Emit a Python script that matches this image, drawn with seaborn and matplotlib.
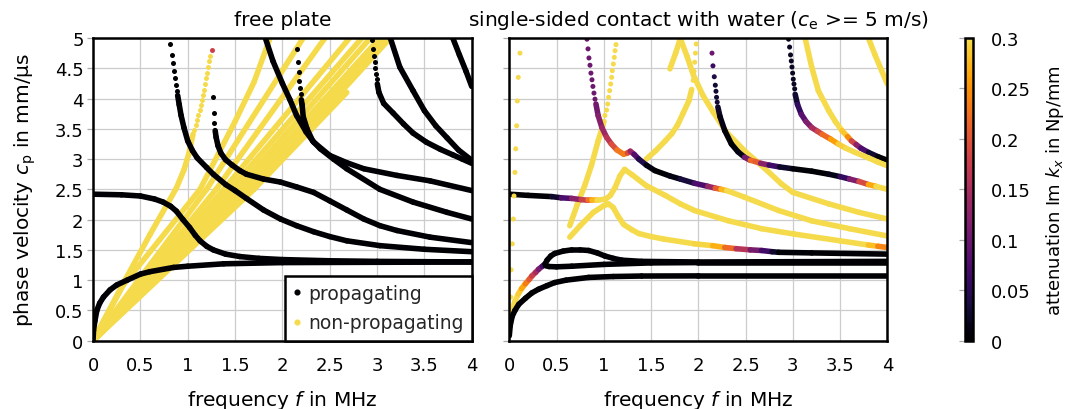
import numpy as np
import pandas as pd
import matplotlib
matplotlib.use('Agg')
import matplotlib.pyplot as plt
import seaborn as sns
from matplotlib.collections import LineCollection
from matplotlib.colors import ListedColormap, Normalize
from matplotlib.lines import Line2D
from matplotlib.cm import ScalarMappable

# ---------------------------------------------------------------- data
freq_ticks = [0, 0.5, 1, 1.5, 2, 2.5, 3, 3.5, 4]
freq_labels = ['0', '0.5', '1', '1.5', '2', '2.5', '3', '3.5', '4']
vel_ticks = [0, 0.5, 1, 1.5, 2, 2.5, 3, 3.5, 4, 4.5, 5]
vel_labels = ['0', '0.5', '1', '1.5', '2', '2.5', '3', '3.5', '4', '4.5', '5']
att_ticks = [0, 0.05, 0.1, 0.15, 0.2, 0.25, 0.3]
att_labels = ['0', '0.05', '0.1', '0.15', '0.2', '0.25', '0.3']
legend_labels = ['propagating', 'non-propagating']

# ---- free plate: propagating modes (f in MHz, c_p in mm/us), attenuation 0
free_A0 = [(0, 0), (0.005, 0.17), (0.02, 0.33), (0.04, 0.5), (0.07, 0.62), (0.11, 0.72),
           (0.18, 0.84), (0.25, 0.92), (0.36, 1.0), (0.5, 1.1), (0.6, 1.14), (0.85, 1.21),
           (1.0, 1.23), (1.38, 1.27), (2.0, 1.29), (4.0, 1.3)]
free_S0 = [(0, 2.42), (0.3, 2.41), (0.5, 2.39), (0.65, 2.34), (0.74, 2.29), (0.82, 2.22),
           (0.88, 2.14), (0.95, 2.0), (1.02, 1.87), (1.08, 1.74), (1.13, 1.65), (1.2, 1.56),
           (1.27, 1.5), (1.4, 1.43), (1.55, 1.39), (1.75, 1.36), (2.0, 1.34), (2.5, 1.32),
           (3.0, 1.31), (4.0, 1.3)]
free_A1 = [(0.894, 4.05), (0.91, 3.9), (0.93, 3.72), (0.96, 3.52), (1.0, 3.3), (1.05, 3.14),
           (1.1, 3.02), (1.2, 2.86), (1.27, 2.75),
           (1.4, 2.58), (1.5, 2.48), (1.62, 2.35), (1.8, 2.16), (1.98, 2.01), (2.15, 1.9),
           (2.33, 1.8), (2.5, 1.72), (2.68, 1.65), (3.03, 1.57), (3.5, 1.51), (4.0, 1.47)]
free_S1 = [(1.29, 3.47), (1.3, 3.36), (1.32, 3.22), (1.35, 3.1), (1.4, 2.99), (1.47, 2.9),
           (1.55, 2.81), (1.62, 2.75), (1.8, 2.67), (1.98, 2.62), (2.15, 2.54), (2.33, 2.45),
           (2.5, 2.31), (2.68, 2.16), (2.86, 2.01), (3.03, 1.9), (3.21, 1.82), (3.56, 1.71),
           (4.0, 1.62)]
free_M183 = [(1.82, 5.0), (1.9, 4.62), (2.0, 4.25), (2.08, 3.98), (2.15, 3.72), (2.25, 3.45),
             (2.33, 3.28), (2.5, 3.06), (2.68, 2.94), (2.86, 2.84), (3.21, 2.73), (3.56, 2.64),
             (4.0, 2.48)]
free_M217 = [(2.2, 3.98), (2.208, 3.9), (2.22, 3.7), (2.26, 3.5), (2.32, 3.3), (2.4, 3.17),
             (2.54, 3.0), (2.68, 2.84), (3.03, 2.5), (3.38, 2.29), (3.74, 2.12), (4.0, 2.01)]
free_M295 = [(3.003, 4.24), (3.02, 4.1), (3.07, 3.92), (3.17, 3.76), (3.28, 3.58), (3.38, 3.43),
             (3.52, 3.28), (3.67, 3.16), (3.8, 3.07), (3.9, 3.0), (4.0, 2.93)]
free_M314 = [(3.14, 5.0), (3.24, 4.52), (3.38, 4.13), (3.5, 3.8), (3.62, 3.55), (3.74, 3.35),
             (3.86, 3.15), (4.0, 2.98)]
free_M38 = [(3.8, 5.0), (3.87, 4.72), (3.94, 4.45), (4.0, 4.2)]
free_prop_dots = [(0.813, 4.90), (0.831, 4.72), (0.842, 4.58), (0.852, 4.46), (0.863, 4.34),
                  (0.873, 4.23), (0.884, 4.13),
                  (1.264, 4.03), (1.275, 3.76), (1.28, 3.59),
                  (2.152, 4.82), (2.162, 4.6), (2.173, 4.43), (2.18, 4.29), (2.187, 4.17),
                  (2.194, 4.08),
                  (2.944, 4.96), (2.955, 4.82), (2.965, 4.71), (2.976, 4.6), (2.982, 4.5),
                  (2.99, 4.41), (2.997, 4.32)]

# ---- free plate: non-propagating modes (attenuation >= 0.3)
free_np_Y1 = [(0, 0), (0.32, 0.95), (0.6, 1.75), (0.88, 2.52), (0.96, 2.82), (1.01, 3.08),
              (1.056, 3.41)]
free_np_Y1_dots = [(1.236, 4.708), (1.225, 4.615), (1.215, 4.516), (1.204, 4.422),
                   (1.194, 4.334), (1.183, 4.24), (1.173, 4.147), (1.162, 4.058), (1.151, 3.97),
                   (1.141, 3.888), (1.127, 3.805), (1.113, 3.723), (1.099, 3.64), (1.085, 3.563),
                   (1.07, 3.486)]
free_np_tip = [(1.254, 4.8, 0.18)]
free_np_Y2 = [(0, 0), (0.32, 0.92), (0.7, 1.66), (1.13, 2.5), (1.5, 3.62), (1.7, 4.27), (1.87, 5.0)]
free_np_fan = [
    [(0, 0), (1.2, 2.5), (2.22, 5.0)],
    [(0, 0), (1.3, 2.5), (2.45, 5.0)],
    [(0, 0), (1.38, 2.5), (2.71, 5.0)],
    [(0, 0), (1.45, 2.5), (2.84, 5.0)],
    [(0, 0), (1.52, 2.5), (2.93, 5.0)],
    [(0, 0), (1.58, 2.5), (3.03, 5.0)],
    [(0, 0), (1.63, 2.5), (3.10, 5.0)],
    [(0, 0), (1.68, 2.5), (3.14, 5.0)],
    [(0, 0), (1.56, 2.5), (2.05, 3.22)],
    [(0, 0), (1.62, 2.5), (2.19, 3.33)],
    [(0, 0), (1.7, 2.5), (2.68, 4.1)],
]

# ---- single-sided water contact: (f, c_p, attenuation Im k_x)
water_A0 = [(0.0, 0.08, 0), (0.01, 0.25, 0), (0.03, 0.4, 0), (0.06, 0.5, 0), (0.1, 0.6, 0),
            (0.17, 0.7, 0), (0.24, 0.79, 0), (0.31, 0.85, 0), (0.4, 0.91, 0), (0.48, 0.96, 0),
            (0.6, 1.0, 0), (0.84, 1.045, 0), (1.1, 1.06, 0), (1.4, 1.068, 0), (2.0, 1.07, 0),
            (4.0, 1.07, 0)]
water_loop_up = [(0.0, 0.18, 0.3), (0.007, 0.39, 0.3), (0.025, 0.5, 0.3), (0.06, 0.65, 0.3),
                 (0.095, 0.77, 0.3), (0.13, 0.86, 0.28), (0.17, 0.94, 0.25), (0.21, 1.01, 0.22),
                 (0.24, 1.07, 0.19), (0.28, 1.13, 0.16), (0.31, 1.18, 0.13), (0.35, 1.23, 0.09),
                 (0.38, 1.27, 0.04), (0.4, 1.33, 0.0), (0.44, 1.4, 0), (0.48, 1.44, 0),
                 (0.57, 1.48, 0), (0.66, 1.5, 0), (0.75, 1.5, 0), (0.84, 1.49, 0), (0.93, 1.45, 0),
                 (1.01, 1.4, 0), (1.1, 1.36, 0), (1.19, 1.33, 0), (1.4, 1.31, 0), (2.0, 1.3, 0),
                 (4.0, 1.31, 0)]
water_loop_low = [(0.38, 1.27, 0), (0.385, 1.24, 0), (0.42, 1.225, 0), (0.5, 1.22, 0),
                  (0.66, 1.23, 0), (1.0, 1.26, 0), (1.5, 1.285, 0), (2.0, 1.29, 0), (4.0, 1.29, 0)]
water_S0 = [(0, 2.42, 0), (0.2, 2.4, 0), (0.45, 2.38, 0.0), (0.55, 2.36, 0.05), (0.66, 2.35, 0.1),
            (0.76, 2.33, 0.15), (0.83, 2.32, 0.2), (0.88, 2.32, 0.25), (0.93, 2.32, 0.3),
            (1.02, 2.34, 0.3), (1.07, 2.4, 0.3), (1.12, 2.53, 0.3), (1.17, 2.72, 0.3),
            (1.22, 2.83, 0.3), (1.3, 2.74, 0.3), (1.45, 2.56, 0.3), (1.65, 2.4, 0.3),
            (1.81, 2.26, 0.3), (1.96, 2.15, 0.3), (2.32, 1.98, 0.3), (2.67, 1.85, 0.3),
            (3.02, 1.76, 0.3), (3.5, 1.65, 0.3), (3.8, 1.58, 0.3), (3.9, 1.56, 0.26),
            (4.0, 1.54, 0.22)]
water_low_peak = [(0.64, 1.71, 0.3), (0.75, 1.9, 0.3), (0.89, 2.12, 0.3), (1.0, 2.23, 0.3),
                  (1.05, 2.26, 0.3), (1.1, 2.2, 0.3), (1.15, 2.06, 0.3), (1.21, 1.92, 0.3),
                  (1.3, 1.83, 0.3), (1.37, 1.77, 0.3), (1.5, 1.72, 0.3), (1.63, 1.68, 0.3),
                  (1.96, 1.6, 0.3), (2.15, 1.57, 0.29), (2.28, 1.54, 0.25), (2.4, 1.52, 0.19),
                  (2.55, 1.5, 0.13), (2.67, 1.49, 0.09), (2.78, 1.47, 0.04), (2.85, 1.46, 0.01),
                  (3.2, 1.45, 0), (4.0, 1.43, 0)]
water_up_yel = [(0.64, 1.9, 0.3), (0.72, 2.25, 0.3), (0.8, 2.57, 0.3), (0.87, 2.9, 0.3),
                (0.94, 3.3, 0.3), (0.98, 3.5, 0.3), (1.002, 3.62, 0.3)]
water_A1 = [(0.917, 3.91, 0.1), (0.94, 3.72, 0.11), (0.98, 3.52, 0.13), (1.03, 3.36, 0.15),
            (1.08, 3.25, 0.18), (1.14, 3.15, 0.21), (1.21, 3.08, 0.25), (1.25, 3.1, 0.22),
            (1.28, 3.13, 0.17), (1.32, 3.08, 0.1), (1.37, 3.0, 0.06), (1.45, 2.9, 0.02),
            (1.54, 2.81, 0), (1.7, 2.72, 0), (1.81, 2.67, 0.02), (1.96, 2.6, 0.05),
            (2.1, 2.55, 0.1), (2.18, 2.52, 0.17), (2.24, 2.5, 0.25), (2.3, 2.48, 0.3),
            (2.49, 2.37, 0.3), (2.85, 2.15, 0.3), (3.2, 1.98, 0.3), (3.6, 1.85, 0.3),
            (4.0, 1.73, 0.3)]
water_peak18 = [(1.7, 4.49, 0.3), (1.76, 4.75, 0.3), (1.81, 4.99, 0.3), (1.88, 4.7, 0.3),
                (1.95, 4.38, 0.3), (2.05, 4.05, 0.3), (2.16, 3.77, 0.3), (2.3, 3.44, 0.3),
                (2.5, 3.12, 0.3), (2.7, 2.85, 0.3), (2.88, 2.59, 0.3), (3.0, 2.45, 0.3),
                (3.38, 2.26, 0.3), (3.7, 2.12, 0.3), (4.0, 2.01, 0.3)]
water_rise_yel = [(1.45, 3.0, 0.3), (1.55, 3.14, 0.3), (1.65, 3.3, 0.3), (1.72, 3.42, 0.3),
                  (1.78, 3.56, 0.3), (1.84, 3.76, 0.3), (1.9, 3.96, 0.3), (1.93, 4.15, 0.3)]
water_M217 = [(2.207, 3.86, 0.03), (2.23, 3.7, 0.02), (2.28, 3.47, 0.01), (2.35, 3.25, 0),
              (2.42, 3.12, 0), (2.49, 3.03, 0.03), (2.55, 2.98, 0.18), (2.6, 2.96, 0.26),
              (2.66, 2.93, 0.16), (2.75, 2.9, 0.09), (2.86, 2.87, 0.04), (3.0, 2.84, 0.01),
              (3.2, 2.8, 0), (3.38, 2.75, 0), (3.5, 2.71, 0.03), (3.6, 2.67, 0.08),
              (3.7, 2.63, 0.15), (3.8, 2.58, 0.23), (3.88, 2.55, 0.3), (4.0, 2.5, 0.3)]
water_M295 = [(3.025, 4.07, 0.02), (3.05, 3.9, 0.04), (3.09, 3.74, 0.07), (3.14, 3.62, 0.1),
              (3.2, 3.52, 0.13), (3.26, 3.46, 0.17), (3.31, 3.41, 0.2), (3.4, 3.33, 0.24),
              (3.48, 3.25, 0.28), (3.56, 3.18, 0.3), (3.66, 3.11, 0.3), (3.8, 3.02, 0.3),
              (3.9, 2.95, 0.3), (4.0, 2.89, 0.3)]
water_M313 = [(3.13, 5.0, 0.3), (3.2, 4.52, 0.3), (3.27, 4.13, 0.3), (3.38, 3.8, 0.3),
              (3.45, 3.62, 0.3), (3.52, 3.47, 0.3), (3.58, 3.37, 0.27), (3.62, 3.3, 0.22),
              (3.67, 3.24, 0.15), (3.72, 3.18, 0.1), (3.8, 3.11, 0.05), (3.9, 3.04, 0.01),
              (4.0, 2.98, 0)]
water_M38 = [(3.8, 5.0, 0.3), (3.87, 4.72, 0.3), (3.94, 4.46, 0.3), (4.0, 4.24, 0.3)]
water_dots = [
    # near-vertical non-propagating branch
    (0.113, 4.75, 0.3), (0.095, 4.35, 0.3), (0.085, 3.96, 0.3), (0.078, 3.55, 0.3),
    (0.068, 3.17, 0.3), (0.06, 2.78, 0.3), (0.05, 2.39, 0.3), (0.043, 2.01, 0.3),
    (0.032, 1.6, 0.3), (0.019, 1.17, 0.3), (0.015, 0.72, 0.3),
    # top of the mode starting near 0.82 MHz
    (0.822, 4.98, 0.1), (0.833, 4.82, 0.1), (0.843, 4.67, 0.1), (0.854, 4.55, 0.1),
    (0.864, 4.42, 0.1), (0.875, 4.31, 0.1), (0.885, 4.2, 0.1), (0.896, 4.09, 0.1),
    (0.907, 3.99, 0.1),
    # top of the yellow branch near 1.1 MHz
    (1.129, 4.89, 0.3), (1.119, 4.79, 0.3), (1.111, 4.68, 0.3), (1.101, 4.57, 0.3),
    (1.09, 4.46, 0.3), (1.083, 4.35, 0.3), (1.073, 4.24, 0.3), (1.062, 4.13, 0.3),
    (1.051, 4.02, 0.3), (1.041, 3.91, 0.3), (1.03, 3.81, 0.3), (1.012, 3.72, 0.3),
    # top of the yellow branch near 1.97 MHz
    (1.945, 4.3, 0.3), (1.955, 4.45, 0.3), (1.962, 4.6, 0.3), (1.97, 4.75, 0.3),
    (1.978, 4.9, 0.3),
    # mode near 2.17 MHz
    (2.145, 4.75, 0.1), (2.155, 4.54, 0.06), (2.169, 4.36, 0.04), (2.18, 4.22, 0.03),
    (2.187, 4.12, 0.03), (2.193, 4.02, 0.03), (2.2, 3.94, 0.03),
    # mode near 2.95 MHz
    (2.955, 4.98, 0.02), (2.966, 4.85, 0.02), (2.976, 4.72, 0.02), (2.984, 4.62, 0.02),
    (2.991, 4.52, 0.02), (2.998, 4.42, 0.02), (3.005, 4.32, 0.02), (3.012, 4.24, 0.02),
    (3.02, 4.16, 0.02),
]

# ---------------------------------------------------------------- style
sns.set_theme(style='whitegrid')
plt.rcParams['font.family'] = ['DejaVu Sans']
plt.rcParams['mathtext.fontset'] = 'dejavusans'

cmap = ListedColormap(plt.get_cmap('inferno')(np.linspace(0.0, 0.91, 256)))
norm = Normalize(0, 0.3, clip=True)
LW = 4.0
DOT = 13
TICK_FS = 13
LABEL_FS = 14.5

fig = plt.figure(figsize=(10.67, 4.10), dpi=100)
axL = fig.add_axes([0.0872, 0.1666, 0.3549, 0.7383])
axR = fig.add_axes([0.4773, 0.1666, 0.3543, 0.7383])
cax = fig.add_axes([0.9044, 0.1666, 0.0078, 0.7383])


def draw_line(ax, pts, att=None, z=3):
    a = np.asarray(pts, float)
    f, c = a[:, 0], a[:, 1]
    v = a[:, 2] if a.shape[1] == 3 else np.full(len(a), att)
    segs = np.stack([np.column_stack([f[:-1], c[:-1]]),
                     np.column_stack([f[1:], c[1:]])], axis=1)
    lc = LineCollection(segs, cmap=cmap, norm=norm, linewidths=LW,
                        capstyle='round', joinstyle='round', zorder=z)
    lc.set_array((v[:-1] + v[1:]) / 2)
    ax.add_collection(lc)


def draw_dots(ax, pts, att=None, z=4):
    a = np.asarray(pts, float)
    df = pd.DataFrame({'f': a[:, 0], 'c': a[:, 1]})
    if a.shape[1] == 3 and len(np.unique(a[:, 2])) > 1:
        df['att'] = a[:, 2]
        sns.scatterplot(data=df, x='f', y='c', hue='att', palette=cmap, hue_norm=norm,
                        s=DOT, linewidth=0, legend=False, ax=ax, zorder=z)
    else:
        val = a[0, 2] if a.shape[1] == 3 else att
        sns.scatterplot(data=df, x='f', y='c', color=cmap(norm(val)),
                        s=DOT, linewidth=0, legend=False, ax=ax, zorder=z)


# ---- left panel
for ln in free_np_fan:
    draw_line(axL, ln, 0.3, z=2)
draw_line(axL, free_np_Y2, 0.3, z=2)
draw_line(axL, free_np_Y1, 0.3, z=2)
draw_dots(axL, free_np_Y1_dots, 0.3, z=2)
draw_dots(axL, free_np_tip, z=2)
for ln in [free_A0, free_S0, free_A1, free_S1, free_M183, free_M217, free_M295, free_M314,
           free_M38]:
    draw_line(axL, ln, 0.0, z=3)
draw_dots(axL, free_prop_dots, 0.0, z=3)

# ---- right panel
for ln in [water_peak18, water_rise_yel, water_up_yel, water_M38, water_low_peak, water_S0,
           water_M313, water_M295, water_M217, water_A1, water_loop_up, water_loop_low,
           water_A0]:
    draw_line(axR, ln, z=3)
draw_dots(axR, water_dots, z=3)

# ---- axes formatting
for ax in (axL, axR):
    ax.set_xlim(0, 4)
    ax.set_ylim(0, 5)
    ax.set_xticks(freq_ticks)
    ax.set_xticklabels(freq_labels, fontsize=TICK_FS)
    ax.set_yticks(vel_ticks)
    ax.set_axisbelow(True)
    ax.grid(True, color='#cccccc', linewidth=0.9)
    for sp in ax.spines.values():
        sp.set_color('black')
        sp.set_linewidth(1.8)
        sp.set_zorder(6)
    ax.tick_params(axis='x', length=0, pad=11, colors='black', labelsize=TICK_FS)
    ax.tick_params(axis='y', left=True, length=4.3, width=0.9, color='#aaaaaa',
                   direction='out', pad=2.5, labelcolor='black', labelsize=TICK_FS)
    ax.set_xlabel(r'frequency $f$ in MHz', fontsize=LABEL_FS, labelpad=10, color='black')
    ax.set_facecolor('white')

axL.set_yticklabels(vel_labels, fontsize=TICK_FS)
axR.set_yticklabels([])
axL.set_ylabel(r'phase velocity $c_\mathrm{p}$ in mm/μs', fontsize=LABEL_FS, labelpad=12,
               color='black')
axR.set_ylabel('')
axL.set_title('free plate', fontsize=LABEL_FS, pad=9, color='black')
axR.set_title(r'single-sided contact with water ($c_\mathrm{e}$ >= 5 m/s)',
              fontsize=LABEL_FS, pad=9, color='black')

# legend
handles = [Line2D([], [], marker='o', ls='', color=cmap(norm(0.0)), ms=3.4),
           Line2D([], [], marker='o', ls='', color=cmap(norm(0.3)), ms=3.4)]
leg = axL.legend(handles, legend_labels, loc='lower right', frameon=True, fancybox=False,
                 edgecolor='black', framealpha=1, handlelength=0.4, handletextpad=0.35,
                 borderpad=0.45, labelspacing=0.55, fontsize=13.5, borderaxespad=0.0)
leg.get_frame().set_linewidth(1.8)
leg.set_zorder(7)

# colorbar
cb = fig.colorbar(ScalarMappable(norm=norm, cmap=cmap), cax=cax)
cb.set_ticks(att_ticks)
cb.set_ticklabels(att_labels)
cb.outline.set_linewidth(1.8)
cb.outline.set_edgecolor('black')
cax.tick_params(left=True, right=False, labelleft=False, labelright=True, length=4.3,
                width=0.9, color='#aaaaaa', direction='out', pad=8, labelsize=TICK_FS,
                labelcolor='black')
cb.set_label(r'attenuation Im $k_x$ in Np/mm', fontsize=13, labelpad=10, color='black')

fig.savefig('out.png', dpi=100, facecolor='white')
